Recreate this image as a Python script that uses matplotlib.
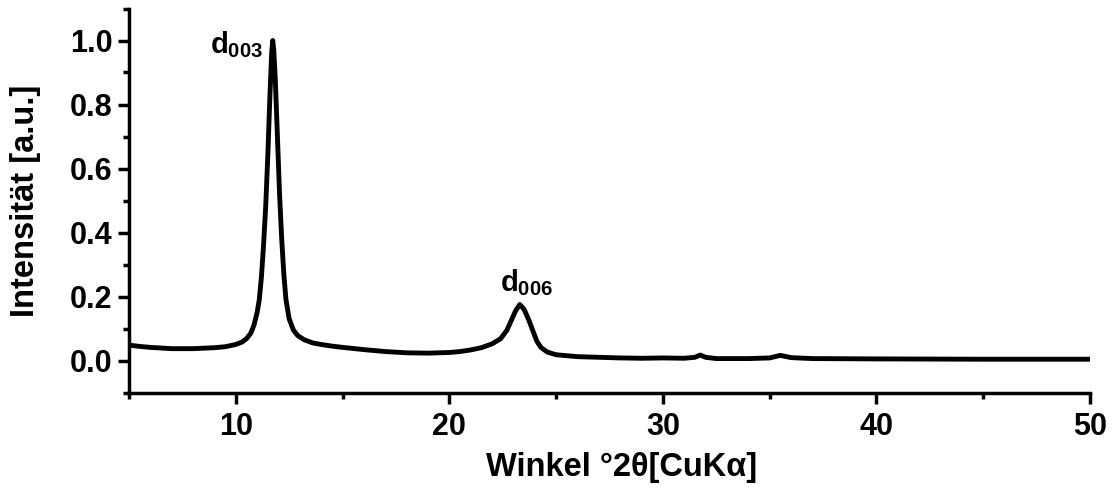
# -*- coding: utf-8 -*-

import matplotlib
matplotlib.use('Agg')
import matplotlib.pyplot as plt
from matplotlib import ticker

# diffractogram read as (2theta, normalised intensity)
two_theta = [
    5.0, 5.5, 6.0, 7.0, 8.0, 9.0, 9.5, 10.0, 10.3, 10.5,
    10.7, 10.85, 11.0, 11.1, 11.2, 11.3, 11.4, 11.5, 11.6, 11.68,
    11.73, 11.78, 11.85, 11.95, 12.05, 12.15, 12.25, 12.35, 12.5, 12.7,
    12.9, 13.2, 13.6, 14.0, 14.5, 15.0, 16.0, 17.0, 18.0, 19.0,
    20.0, 20.5, 21.0, 21.5, 22.0, 22.4, 22.7, 22.9, 23.1, 23.3,
    23.5, 23.7, 23.9, 24.1, 24.3, 24.6, 25.0, 26.0, 27.0, 28.0,
    29.0, 30.0, 31.0, 31.5, 31.75, 32.0, 32.5, 34.0, 35.0, 35.5,
    36.0, 37.0, 40.0, 45.0, 50.0,
]
intensity = [
    0.048, 0.044, 0.041, 0.037, 0.037, 0.040, 0.043, 0.050, 0.058, 0.068,
    0.085, 0.110, 0.150, 0.190, 0.260, 0.360, 0.480, 0.640, 0.830, 0.960,
    1.000, 0.970, 0.880, 0.700, 0.520, 0.380, 0.270, 0.190, 0.130, 0.095,
    0.078, 0.065, 0.055, 0.050, 0.045, 0.041, 0.034, 0.028, 0.024, 0.023,
    0.025, 0.028, 0.033, 0.040, 0.052, 0.068, 0.095, 0.125, 0.155, 0.175,
    0.160, 0.130, 0.095, 0.060, 0.040, 0.026, 0.018, 0.012, 0.010, 0.008,
    0.007, 0.008, 0.007, 0.010, 0.017, 0.010, 0.006, 0.006, 0.008, 0.016,
    0.009, 0.006, 0.005, 0.004, 0.004,
]

# reflex labels
peak_labels = [r'$d_{003}$', r'$d_{006}$']
peak_label_x = [10.04, 23.63]
peak_label_y = [0.986, 0.244]

x_ticks = [10, 20, 30, 40, 50]
y_ticks = [0.0, 0.2, 0.4, 0.6, 0.8, 1.0]

plt.rcParams['font.family'] = 'Liberation Sans'
plt.rcParams['font.weight'] = 'bold'
plt.rcParams['mathtext.fontset'] = 'custom'
plt.rcParams['mathtext.rm'] = 'Liberation Sans:bold'
plt.rcParams['mathtext.it'] = 'Liberation Sans:bold'
plt.rcParams['mathtext.bf'] = 'Liberation Sans:bold'

fig = plt.figure(figsize=(11.12, 4.92), dpi=100)
ax = fig.add_axes([129 / 1112, 1 - 392.5 / 492, (1090 - 129) / 1112, 384 / 492])

ax.plot(two_theta, intensity, color='black', lw=3.5, solid_joinstyle='round')

for lbl, lx, ly in zip(peak_labels, peak_label_x, peak_label_y):
    ax.text(lx, ly, lbl, fontsize=21, ha='center', va='center')

ax.set_xlim(5, 50)
ax.set_ylim(-0.1, 1.1)
ax.set_xticks(x_ticks)
ax.set_yticks(y_ticks)
ax.xaxis.set_minor_locator(ticker.MultipleLocator(5))
ax.yaxis.set_minor_locator(ticker.MultipleLocator(0.1))
ax.yaxis.set_major_formatter(ticker.FormatStrFormatter('%.1f'))

for side in ('top', 'right'):
    ax.spines[side].set_visible(False)
for side in ('left', 'bottom'):
    ax.spines[side].set_linewidth(2.5)

ax.tick_params(which='major', direction='out', length=8, width=2.5,
               labelsize=22)
ax.tick_params(axis='x', which='major', pad=6)
ax.tick_params(axis='y', which='major', pad=4)
ax.tick_params(which='minor', direction='out', length=4, width=2.5)

ax.set_xlabel('Winkel °2θ[CuKα]', fontsize=23.5, fontweight='bold')
ax.set_ylabel('Intensität [a.u.]', fontsize=23.5, fontweight='bold')
ax.xaxis.set_label_coords(0.513, -0.155)
ax.yaxis.set_label_coords(-0.092, 0.5)

fig.savefig('out.png', dpi=100)
